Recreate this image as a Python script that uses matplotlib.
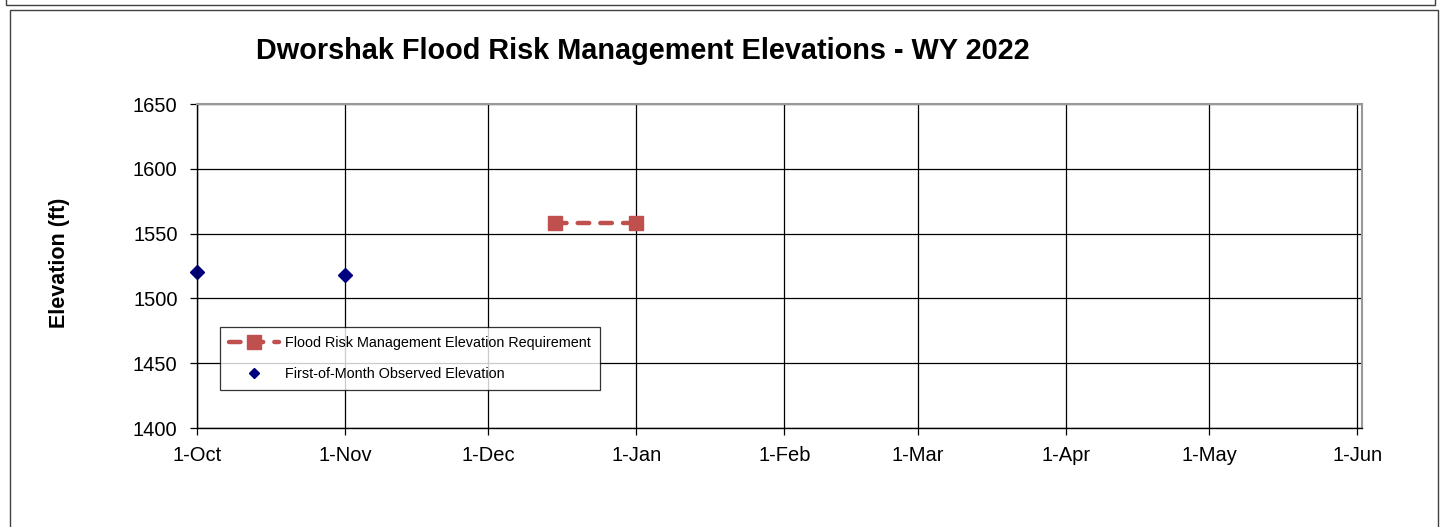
import matplotlib
matplotlib.use("Agg")
import matplotlib.pyplot as plt
import matplotlib.dates as mdates
from matplotlib.patches import Rectangle
from datetime import date

plt.rcParams['font.family'] = ['Liberation Sans', 'DejaVu Sans']

# data
frm_dates = [date(2021, 12, 15), date(2022, 1, 1)]
frm_elev = [1558, 1558]
obs_dates = [date(2021, 10, 1), date(2021, 11, 1)]
obs_elev = [1520, 1518]
month_ticks = [date(2021, 10, 1), date(2021, 11, 1), date(2021, 12, 1),
               date(2022, 1, 1), date(2022, 2, 1), date(2022, 3, 1),
               date(2022, 4, 1), date(2022, 5, 1), date(2022, 6, 1)]
y_ticks = [1400, 1450, 1500, 1550, 1600, 1650]

W, H = 1444, 527
fig = plt.figure(figsize=(W / 100, H / 100), dpi=100)

# outer frames (bottom of the panel above, and this panel's border)
fig.patches.append(Rectangle((6 / W, 1 - 4.5 / H), 1429 / W, 0.5,
                             transform=fig.transFigure, fill=False,
                             edgecolor='#404040', lw=1))
fig.patches.append(Rectangle((9.5 / W, -0.1), 1428 / W, 1 - 10 / H + 0.1,
                             transform=fig.transFigure, fill=False,
                             edgecolor='#404040', lw=1))

ax = fig.add_axes([197 / W, 1 - 428 / H, (1362 - 197) / W, (428 - 104) / H])

ax.plot(frm_dates, frm_elev, color='#C0504D', lw=3.2, linestyle=(0, (2.6, 2.5)),
        dash_capstyle='round', marker='s', ms=9.5, clip_on=False,
        label='Flood Risk Management Elevation Requirement')
ax.plot(obs_dates, obs_elev, color='#000080', lw=0, marker='D', ms=7.5,
        clip_on=False, label='First-of-Month Observed Elevation')

ax.set_xlim(date(2021, 10, 1), date(2022, 6, 2))
ax.set_ylim(1400, 1650)
ax.set_xticks(month_ticks)
ax.xaxis.set_major_formatter(plt.FuncFormatter(
    lambda v, p: "%d-%s" % (mdates.num2date(v).day, mdates.num2date(v).strftime('%b'))))
ax.set_yticks(y_ticks)
ax.grid(True, color='black', lw=0.9)
ax.set_axisbelow(True)
ax.tick_params(axis='both', labelsize=14.5, length=5, width=0.9, color='black')
ax.tick_params(axis='x', pad=8)
ax.tick_params(axis='y', pad=9)
for s in ['top', 'right']:
    ax.spines[s].set_color('#999999')
    ax.spines[s].set_linewidth(1.5)
for s in ['left', 'bottom']:
    ax.spines[s].set_color('black')
    ax.spines[s].set_linewidth(1)

leg = ax.legend(loc='upper left', bbox_to_anchor=(220 / W, 1 - 327 / H),
                bbox_transform=fig.transFigure, borderaxespad=0,
                fancybox=False, frameon=True, fontsize=10.4, numpoints=1,
                handlelength=3.5, handletextpad=0.4, labelspacing=1.2,
                borderpad=0.6)
leg.get_frame().set_edgecolor('black')
leg.get_frame().set_linewidth(0.9)
leg.legend_handles[1].set_markersize(5)

fig.text(642.5 / W, 1 - 59 / H, 'Dworshak Flood Risk Management Elevations - WY 2022',
         ha='center', va='baseline', fontsize=20.8, fontweight='bold')
fig.text(59 / W, 1 - 263 / H, 'Elevation (ft)', rotation=90,
         ha='center', va='center', fontsize=15.5, fontweight='bold')

fig.savefig('out.png', dpi=100)
